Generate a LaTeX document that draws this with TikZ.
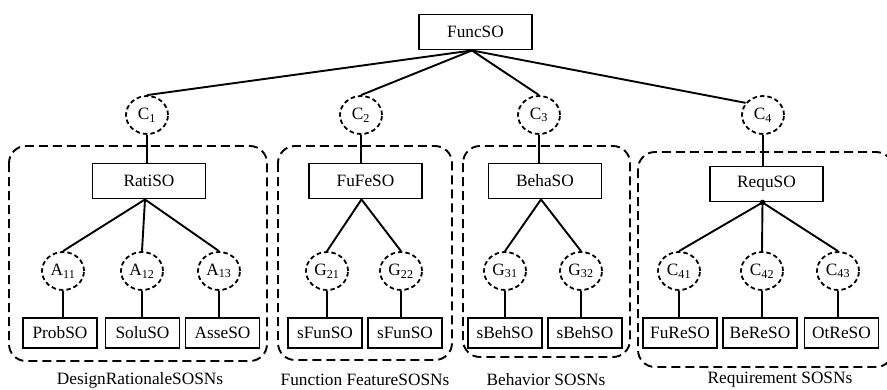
\documentclass[tikz,border=0pt]{standalone}
\usepackage{fontspec}
\setmainfont{Liberation Serif}
\usetikzlibrary{shapes.geometric}
\begin{document}
\begin{tikzpicture}[x=1pt,y=-1pt,
  txt/.style={font=\fontsize{17.3}{20}\selectfont},
  topbox/.style={txt, draw, line width=1.9pt, minimum width=113pt, minimum height=35pt, inner sep=0pt},
  leaf/.style={txt, draw, line width=1.9pt, minimum width=74pt, minimum height=30pt, inner sep=0pt},
  conn/.style={txt, draw, ellipse, dashed, dash pattern=on 4.5pt off 3pt, line width=1.8pt,
               minimum width=42pt, minimum height=38pt, inner sep=0pt},
  group/.style={draw, dash pattern=on 9pt off 5pt, line width=1.9pt, rounded corners=17pt},
  link/.style={line width=1.9pt},
  caption/.style={txt}]
\useasboundingbox (0,0) rectangle (887,389);

% dashed sub-network frames
\draw[group] (9,146) rectangle (267,361);
\draw[group] (278,146) rectangle (452,360);
\draw[group] (463,146) rectangle (630,357);
\draw[group] (638,152) rectangle (893,367);

% root
\node[topbox] (func) at (475.5,32) {FuncSO};

% first-level connectors
\node[conn] (c1) at (147,115) {C\textsubscript{1}};
\node[conn] (c2) at (361,115) {C\textsubscript{2}};
\node[conn] (c3) at (539,115) {C\textsubscript{3}};
\node[conn] (c4) at (763,115) {C\textsubscript{4}};

% sub-network roots
\node[topbox] (rati) at (149,181) {RatiSO};
\node[topbox] (fufe) at (365.5,181) {FuFeSO};
\node[topbox] (beha) at (545,181) {BehaSO};
\node[topbox] (requ) at (766.5,184) {RequSO};

% second-level connectors
\node[conn] (a11) at (63,271) {A\textsubscript{11}};
\node[conn] (a12) at (142,271) {A\textsubscript{12}};
\node[conn] (a13) at (219,271) {A\textsubscript{13}};
\node[conn] (g21) at (327,271) {G\textsubscript{21}};
\node[conn] (g22) at (401,271) {G\textsubscript{22}};
\node[conn] (g31) at (505,271) {G\textsubscript{31}};
\node[conn] (g32) at (581,271) {G\textsubscript{32}};
\node[conn] (c41) at (679,271) {C\textsubscript{41}};
\node[conn] (c42) at (762,271) {C\textsubscript{42}};
\node[conn] (c43) at (838,271) {C\textsubscript{43}};

% leaf objects
\node[leaf] (prob) at (60,333) {ProbSO};
\node[leaf] (solu) at (142.5,333) {SoluSO};
\node[leaf] (asse) at (222.5,333) {AsseSO};
\node[leaf] (sfun1) at (325,333) {sFunSO};
\node[leaf] (sfun2) at (405,333) {sFunSO};
\node[leaf] (sbeh1) at (505,333) {sBehSO};
\node[leaf] (sbeh2) at (585,333) {sBehSO};
\node[leaf] (fure) at (680,333) {FuReSO};
\node[leaf] (bere) at (760,333) {BeReSO};
\node[leaf] (otre) at (841.5,333) {OtReSO};

% root to first-level connectors
\coordinate (fs) at ([xshift=-3.5pt]func.south);
\draw[link] (fs) -- (c1.north);
\draw[link] (fs) -- (c2.north);
\draw[link] (fs) -- (c3.north);
\draw[link] (fs) -- (c4.145);

% first-level connectors to sub-network roots
\foreach \c/\r in {c1/rati, c2/fufe, c3/beha, c4/requ}
  \draw[link] (\c.south) -- (\c.south |- \r.north);

% sub-network roots to second-level connectors
\foreach \r/\c in {rati/a11, rati/a12, rati/a13, fufe/g21, fufe/g22,
                   beha/g31, beha/g32, requ/c41, requ/c42, requ/c43}
  \draw[link] ([xshift=-4pt]\r.south) -- (\c.north);
\fill ([xshift=-4pt]requ.south) circle (2.8pt);

% second-level connectors to leaves
\foreach \c/\l in {a11/prob, a12/solu, a13/asse, g21/sfun1, g22/sfun2,
                   g31/sbeh1, g32/sbeh2, c41/fure, c42/bere, c43/otre}
  \draw[link] (\c.south) -- (\c.south |- \l.north);

% frame captions
\node[caption] (cap1) at (140,380) {DesignRationaleSOSNs};
\node[caption] (cap2) at (365,380) {Function FeatureSOSNs};
\node[caption] (cap3) at (546,380) {Behavior SOSNs};
\node[caption] (cap4) at (780,380) {Requirement SOSNs};
\end{tikzpicture}
\end{document}
